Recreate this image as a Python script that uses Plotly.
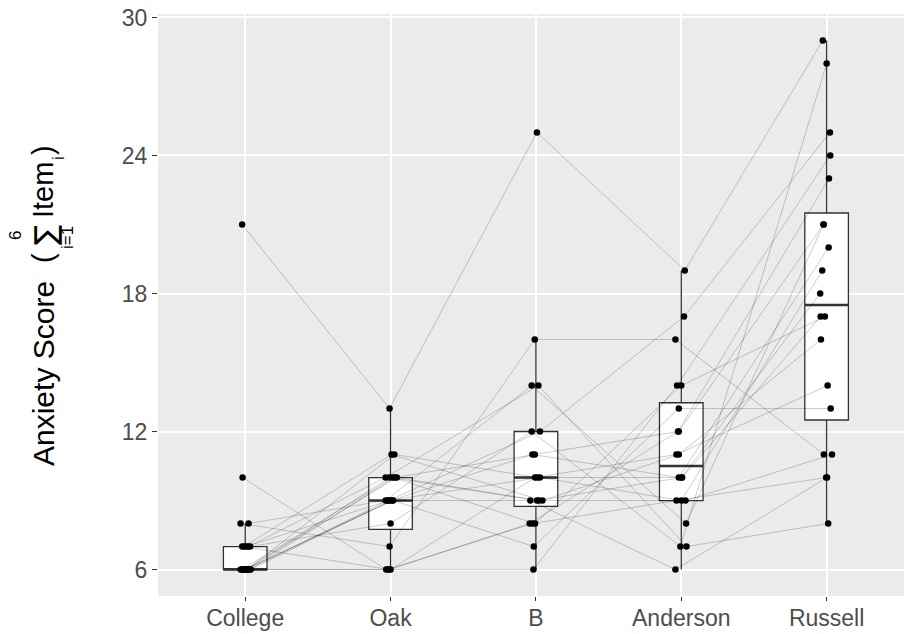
import numpy as np
import plotly.graph_objects as go

# Conditions on the x axis
categories = ["College", "Oak", "B", "Anderson", "Russell"]

# Anxiety score per subject (same subject order in every list)
college  = [21, 8, 10, 7, 6, 6, 7, 8, 7, 6, 6, 6, 6, 7, 6, 6, 6, 6, 7, 6]
oak      = [13, 7, 6, 6, 6, 6, 8, 9, 9, 9, 9, 9, 9, 10, 10, 10, 10, 10, 11, 11]
b_site   = [25, 16, 6, 8, 8, 10, 12, 14, 12, 9, 10, 11, 7, 14, 9, 8, 9, 11, 9, 10]
anderson = [19, 16, 14, 12, 9, 11, 7, 8, 17, 6, 9, 10, 13, 7, 10, 14, 9, 12, 11, 10]
russell  = [29, 11, 24, 23, 10, 14, 28, 21, 25, 10, 19, 20, 13, 8, 17, 17, 11, 21, 16, 18]

# Horizontal jitter of each point, in category units
jit_college  = [-0.021, -0.032, -0.018, -0.021, -0.031, -0.014, 0.034, 0.023, 0.007, 0.003,
                0.021, 0.038, -0.007, 0.021, 0.010, -0.024, -0.001, 0.029, -0.007, 0.014]
jit_oak      = [-0.007, -0.007, -0.030, -0.007, -0.021, 0.000, 0.000, -0.034, -0.012, 0.012,
                -0.021, 0.000, 0.017, -0.034, -0.007, 0.016, 0.043, 0.028, 0.007, 0.026]
jit_b        = [0.007, -0.008, -0.017, -0.043, -0.024, -0.006, -0.029, -0.029, 0.028, -0.038,
                0.028, -0.024, -0.015, 0.017, 0.008, -0.006, 0.021, -0.008, 0.045, 0.010]
jit_anderson = [0.024, -0.040, -0.029, -0.022, -0.033, -0.033, -0.006, 0.033, 0.019, -0.040,
                0.001, -0.017, -0.017, 0.036, 0.006, 0.000, 0.029, -0.017, -0.017, 0.002]
jit_russell  = [-0.026, -0.019, 0.025, 0.016, -0.003, 0.007, 0.000, -0.021, 0.023, 0.003,
                -0.030, 0.014, 0.028, 0.011, -0.041, -0.012, 0.037, -0.021, -0.039, -0.044]

y_ticks = [6, 12, 18, 24, 30]

series = [college, oak, b_site, anderson, russell]
jitters = [jit_college, jit_oak, jit_b, jit_anderson, jit_russell]
n_subj = len(college)
pos = list(range(len(categories)))

# Box statistics (Tukey whiskers, linear-interpolated quartiles)
q1s, meds, q3s, lows, highs = [], [], [], [], []
for vals in series:
    v = np.array(vals, dtype=float)
    q1, med, q3 = np.percentile(v, [25, 50, 75])
    iqr = q3 - q1
    lows.append(float(v[v >= q1 - 1.5 * iqr].min()))
    highs.append(float(v[v <= q3 + 1.5 * iqr].max()))
    q1s.append(float(q1)); meds.append(float(med)); q3s.append(float(q3))

BOX_W = 0.3
fig = go.Figure()

fig.add_trace(go.Box(
    x=pos, q1=q1s, median=meds, q3=q3s, lowerfence=lows, upperfence=highs,
    width=BOX_W, whiskerwidth=0, fillcolor="white",
    line=dict(color="#333333", width=1.3), boxpoints=False,
    hoverinfo="skip", showlegend=False,
))

# thicker median bars
mx, my = [], []
for p, m in zip(pos, meds):
    mx += [p - BOX_W / 2, p + BOX_W / 2, None]
    my += [m, m, None]
fig.add_trace(go.Scatter(x=mx, y=my, mode="lines",
                         line=dict(color="#333333", width=2.6),
                         hoverinfo="skip", showlegend=False))

# one line per subject across the five conditions
for s in range(n_subj):
    xs = [p + jitters[k][s] for k, p in enumerate(pos)]
    ys = [series[k][s] for k in range(len(pos))]
    fig.add_trace(go.Scatter(x=xs, y=ys, mode="lines",
                             line=dict(color="rgba(0,0,0,0.2)", width=1),
                             hoverinfo="skip", showlegend=False))

# points
px_all, py_all = [], []
for k, p in enumerate(pos):
    for s in range(n_subj):
        px_all.append(p + jitters[k][s])
        py_all.append(series[k][s])
fig.add_trace(go.Scatter(x=px_all, y=py_all, mode="markers",
                         marker=dict(color="black", size=6.5, line=dict(width=0)),
                         hoverinfo="skip", showlegend=False))

FONT = "Liberation Sans, Arial, Helvetica, sans-serif"
L, R, T, B = 158, 0, 14, 38
W, H = 904, 634
PW, PH = W - L - R, H - T - B

fig.update_layout(
    width=W, height=H,
    margin=dict(l=L, r=R, t=T, b=B, pad=0),
    paper_bgcolor="white", plot_bgcolor="#EBEBEB",
    font=dict(family=FONT, color="#4D4D4D"),
    showlegend=False,
)
fig.update_xaxes(
    range=[-0.6, -0.6 + PW / 145.35], tickvals=pos, ticktext=categories,
    showgrid=True, gridcolor="white", gridwidth=2, zeroline=False,
    ticks="outside", ticklen=4, tickcolor="#333333", tickwidth=1,
    ticklabelstandoff=-3,
    tickfont=dict(size=23, color="#4D4D4D", family=FONT),
    showline=False, fixedrange=True,
)
fig.update_yaxes(
    range=[4.85, 30.15], tickvals=y_ticks, ticktext=[str(t) for t in y_ticks],
    showgrid=True, gridcolor="white", gridwidth=2, zeroline=False,
    ticks="outside", ticklen=5, tickcolor="#333333", tickwidth=1,
    tickfont=dict(size=23, color="#4D4D4D", family=FONT),
    showline=False, fixedrange=True,
)


def paper_x(px):
    return (px - L) / PW


def paper_y(py):
    return (H - B - py) / PH


# rotated axis title built from pieces: Anxiety Score (sum_{i=1}^{6} Item_i)
title_parts = [
    ("Anxiety Score", 43, 374, 30, FONT),
    ("(", 43, 258, 29, FONT),
    ("\u2211", 45, 235, 30, "DejaVu Sans, " + FONT),
    ("6", 15, 236, 17, FONT),
    ("i=1", 68, 238, 17, FONT),
    ("Item", 43, 190, 29, FONT),
    ("i", 58, 158, 17, FONT),
    (")", 43, 150, 29, FONT),
]
for txt, x, y, size, fam in title_parts:
    fig.add_annotation(
        text=txt, x=paper_x(x), y=paper_y(y), xref="paper", yref="paper",
        xanchor="center", yanchor="middle", textangle=-90, showarrow=False,
        font=dict(family=fam, size=size, color="black"),
    )

fig.write_html("out.html")
